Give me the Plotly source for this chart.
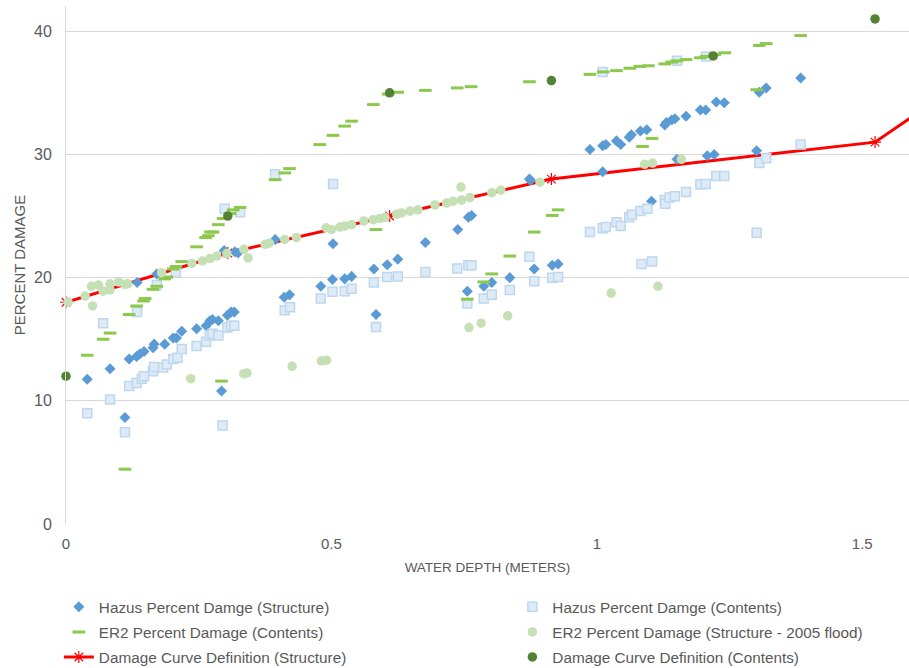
import plotly.graph_objects as go

# ---------------- data ----------------
hs_x = [0.040, 0.083, 0.111, 0.119, 0.133, 0.134, 0.139, 0.147, 0.164, 0.166, 0.171, 0.186, 0.202, 0.208,
        0.218, 0.246, 0.264, 0.271, 0.276, 0.287, 0.293, 0.298, 0.304, 0.311, 0.317, 0.318, 0.324, 0.394,
        0.411, 0.421, 0.480, 0.502, 0.503, 0.525, 0.538, 0.580, 0.584, 0.605, 0.625, 0.677, 0.738, 0.756,
        0.758, 0.764, 0.787, 0.802, 0.836, 0.873, 0.875, 0.882, 0.916, 0.927, 0.987, 1.011, 1.011, 1.017,
        1.037, 1.045, 1.061, 1.065, 1.082, 1.094, 1.103, 1.128, 1.131, 1.141, 1.147, 1.151, 1.168, 1.195,
        1.205, 1.208, 1.221, 1.225, 1.240, 1.301, 1.306, 1.319, 1.384, 1.594]
hs_y = [11.75, 12.6, 8.65, 13.4, 13.6, 19.6, 13.8, 14.0, 14.3, 14.6, 20.3, 14.6, 15.1, 15.1,
        15.65, 15.85, 16.1, 16.5, 16.6, 16.5, 10.8, 22.2, 16.95, 17.2, 17.2, 22.1, 22.0, 23.1,
        18.4, 18.6, 19.3, 19.85, 22.75, 19.9, 20.1, 20.7, 17.0, 21.05, 21.5, 22.85, 23.9, 18.9,
        24.9, 25.05, 19.3, 19.6, 20.0, 28.0, 27.9, 20.7, 21.0, 21.1, 30.4, 28.6, 30.7, 30.8,
        31.1, 30.8, 31.4, 31.6, 31.9, 32.0, 26.2, 32.4, 32.6, 32.8, 32.9, 29.6, 33.1, 33.6,
        33.6, 29.9, 30.0, 34.25, 34.2, 30.3, 35.05, 35.4, 36.2, 39.3]

hc_x = [0.040, 0.070, 0.083, 0.111, 0.119, 0.133, 0.134, 0.143, 0.147, 0.164, 0.166, 0.171, 0.183, 0.190,
        0.202, 0.207, 0.210, 0.218, 0.246, 0.264, 0.271, 0.276, 0.287, 0.295, 0.299, 0.304, 0.311, 0.317,
        0.328, 0.394, 0.412, 0.422, 0.480, 0.502, 0.503, 0.525, 0.538, 0.580, 0.584, 0.605, 0.625, 0.677,
        0.737, 0.756, 0.758, 0.764, 0.787, 0.802, 0.836, 0.873, 0.882, 0.916, 0.927, 0.987, 1.011, 1.011,
        1.017, 1.037, 1.045, 1.061, 1.066, 1.082, 1.084, 1.095, 1.104, 1.128, 1.129, 1.137, 1.147, 1.151,
        1.168, 1.195, 1.205, 1.206, 1.225, 1.240, 1.301, 1.306, 1.319, 1.384, 1.594]
hc_y = [9.0, 16.3, 10.1, 7.45, 11.2, 11.45, 17.2, 11.8, 12.0, 12.4, 12.75, 19.4, 12.7, 12.95,
        13.4, 20.4, 13.5, 14.2, 14.45, 14.8, 15.3, 15.45, 15.3, 8.0, 25.6, 15.95, 16.1, 16.1,
        25.3, 28.4, 17.35, 17.6, 18.3, 18.85, 27.6, 18.9, 19.1, 19.6, 16.0, 20.05, 20.1, 20.45,
        20.75, 17.9, 21.0, 21.0, 18.3, 18.6, 19.0, 21.7, 19.7, 20.0, 20.05, 23.7, 24.0, 36.7,
        24.1, 24.5, 24.2, 24.9, 25.1, 25.4, 21.1, 25.6, 21.3, 26.3, 26.0, 26.5, 26.6, 37.6,
        26.95, 27.55, 27.6, 37.95, 28.25, 28.25, 23.65, 29.3, 29.7, 30.8, 34.4]

ec_x = [0.040, 0.070, 0.083, 0.111, 0.119, 0.133, 0.146, 0.149, 0.164, 0.171, 0.186, 0.190, 0.202, 0.207,
        0.218, 0.246, 0.263, 0.268, 0.272, 0.277, 0.287, 0.293, 0.296, 0.309, 0.315, 0.328, 0.394, 0.412,
        0.421, 0.478, 0.503, 0.525, 0.538, 0.579, 0.584, 0.607, 0.625, 0.677, 0.737, 0.756, 0.763, 0.787,
        0.802, 0.836, 0.873, 0.882, 0.916, 0.927, 0.987, 1.012, 1.037, 1.062, 1.081, 1.086, 1.097, 1.104,
        1.128, 1.141, 1.151, 1.168, 1.195, 1.206, 1.222, 1.241, 1.301, 1.306, 1.319, 1.384, 1.593]
ec_y = [13.7, 15.0, 15.5, 4.45, 17.0, 17.7, 18.1, 18.3, 19.05, 19.3, 19.9, 20.05, 20.7, 20.9,
        21.3, 22.5, 23.25, 23.4, 23.7, 23.7, 24.3, 11.6, 24.8, 25.2, 25.5, 25.7, 27.95, 28.5,
        28.85, 30.8, 31.55, 32.3, 32.7, 34.05, 23.9, 34.9, 35.05, 35.2, 35.4, 18.25, 35.5, 19.65,
        20.3, 21.75, 35.9, 23.7, 25.05, 25.5, 36.5, 36.7, 36.8, 37.0, 37.15, 30.65, 37.2, 31.3,
        37.35, 37.5, 37.6, 37.7, 37.85, 37.95, 38.1, 38.25, 35.25, 38.85, 39.0, 39.65, 42.0]

es_x = [0.004, 0.036, 0.048, 0.050, 0.061, 0.070, 0.083, 0.083, 0.099, 0.111, 0.116, 0.180, 0.235, 0.237,
        0.257, 0.271, 0.284, 0.303, 0.335, 0.335, 0.341, 0.343, 0.375, 0.383, 0.412, 0.426, 0.434, 0.481,
        0.491, 0.490, 0.500, 0.516, 0.525, 0.538, 0.561, 0.579, 0.591, 0.601, 0.623, 0.632, 0.648, 0.663,
        0.695, 0.717, 0.729, 0.744, 0.745, 0.759, 0.761, 0.782, 0.802, 0.819, 0.832, 0.893, 1.027, 1.090,
        1.105, 1.115, 1.159]
es_y = [18.0, 18.5, 19.3, 17.7, 19.4, 18.9, 19.5, 19.0, 19.65, 19.45, 19.5, 20.4, 11.8, 21.15,
        21.35, 21.55, 21.75, 21.95, 22.3, 12.2, 12.25, 21.6, 22.7, 22.8, 23.1, 12.8, 23.25, 13.25,
        13.3, 24.05, 23.9, 24.1, 24.2, 24.3, 24.6, 24.7, 24.8, 24.9, 25.15, 25.25, 25.4, 25.5,
        25.9, 26.05, 26.2, 27.35, 26.3, 15.95, 26.5, 16.3, 26.9, 27.1, 16.9, 27.75, 18.75, 29.2,
        29.3, 19.3, 29.6]

curve_s_x = [0.0, 0.3048, 0.6096, 0.9144, 1.524, 1.8288]
curve_s_y = [18, 22, 25, 28, 31, 40]

curve_c_x = [0.0, 0.3048, 0.6096, 0.9144, 1.2192, 1.524]
curve_c_y = [12, 25, 35, 36, 38, 41]

x_ticks = [0, 0.5, 1, 1.5]
x_tick_text = ["0", "0.5", "1", "1.5"]
y_ticks = [0, 10, 20, 30, 40]

names = ["Hazus Percent Damge (Structure)", "Hazus Percent Damge (Contents)",
         "ER2 Percent Damage (Contents)", "ER2 Percent Damage (Structure - 2005 flood)",
         "Damage Curve Definition (Structure)", "Damage Curve Definition (Contents)"]

# ---------------- figure ----------------
fig = go.Figure()

fig.add_trace(go.Scatter(x=curve_s_x, y=curve_s_y, name=names[4], mode="lines+markers",
                         line=dict(color="#FF0000", width=3),
                         marker=dict(symbol="asterisk-open", size=10, color="#FF0000",
                                     line=dict(color="#FF0000", width=1.2)),
                         legend="legend5", cliponaxis=False))
fig.add_trace(go.Scatter(x=hs_x, y=hs_y, name=names[0], mode="markers",
                         marker=dict(symbol="diamond", size=8.5, color="#5B9BD5",
                                     line=dict(width=0)),
                         legend="legend", cliponaxis=False))
fig.add_trace(go.Scatter(x=hc_x, y=hc_y, name=names[1], mode="markers",
                         marker=dict(symbol="square", size=9, color="#DEEBF7",
                                     line=dict(color="#BDD7EE", width=1.5)),
                         legend="legend2", cliponaxis=False))
fig.add_trace(go.Scatter(x=ec_x, y=ec_y, name=names[2], mode="markers",
                         marker=dict(symbol="line-ew", size=9, color="#8CC84B",
                                     line=dict(color="#8CC84B", width=3)),
                         legend="legend3", cliponaxis=False))
fig.add_trace(go.Scatter(x=es_x, y=es_y, name=names[3], mode="markers",
                         marker=dict(symbol="circle", size=9.5, color="#C5E0B4",
                                     line=dict(width=0)),
                         legend="legend4", cliponaxis=False))
fig.add_trace(go.Scatter(x=curve_c_x, y=curve_c_y, name=names[5], mode="markers",
                         marker=dict(symbol="circle", size=9.5, color="#548235",
                                     line=dict(width=0)),
                         legend="legend6", cliponaxis=False))

font_c = "#595959"
legend_font = dict(family="Liberation Sans, Arial, sans-serif", size=15.3, color=font_c)


def leg(x, y):
    return dict(x=x, y=y, xanchor="left", yanchor="middle", orientation="v",
                font=legend_font, bgcolor="rgba(0,0,0,0)", borderwidth=0)


col1, col2 = -0.0085, 0.5295
r1, r2, r3 = -0.160, -0.2085, -0.2568

fig.update_layout(
    width=909, height=668,
    margin=dict(l=66, r=0, t=6, b=144, autoexpand=False),
    paper_bgcolor="white", plot_bgcolor="white",
    font=dict(family="Liberation Sans, Arial, sans-serif", color=font_c),
    showlegend=True,
    legend=leg(col1, r1), legend2=leg(col2, r1),
    legend3=leg(col1, r2), legend4=leg(col2, r2),
    legend5=leg(col1, r3), legend6=leg(col2, r3),
    xaxis=dict(range=[0, 1.588], tickvals=x_ticks, ticktext=x_tick_text,
               showgrid=False, zeroline=False, showline=False,
               tickfont=dict(size=15, color=font_c), ticklabelstandoff=9,
               title=dict(text="WATER DEPTH (METERS)", font=dict(size=13.5, color=font_c), standoff=11)),
    yaxis=dict(range=[0, 42.05], tickvals=y_ticks, showgrid=True, gridcolor="#D9D9D9", gridwidth=1,
               zeroline=False, showline=True, linecolor="#D9D9D9", linewidth=1,
               tickfont=dict(size=16, color=font_c), ticklabelstandoff=10,
               title=dict(text="PERCENT DAMAGE", font=dict(size=15, color=font_c), standoff=4)),
)

fig.write_html("out.html", config={"displayModeBar": False},
               post_script="document.body.style.margin='0';")
